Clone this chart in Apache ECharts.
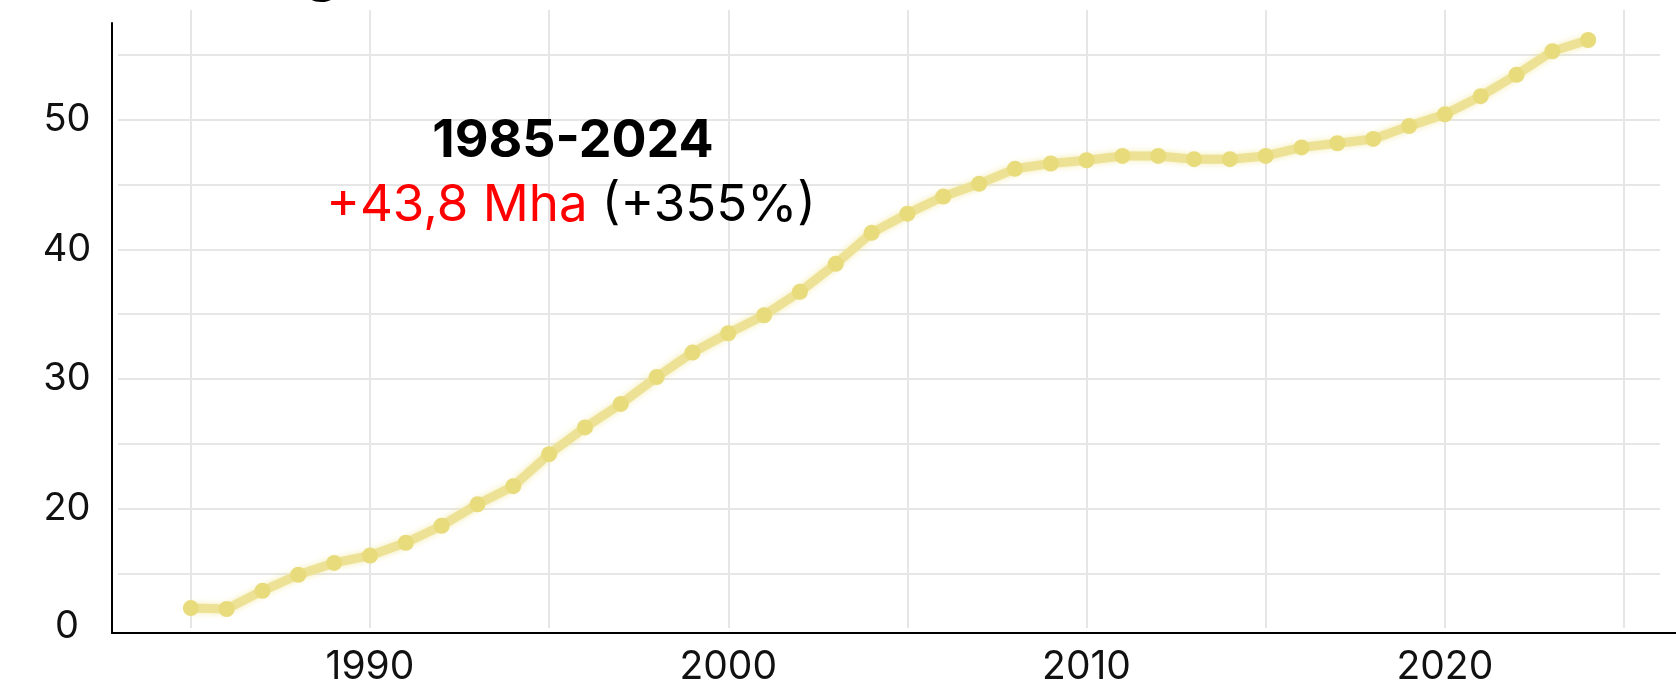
<!DOCTYPE html>
<html>
<head>
<meta charset="utf-8">
<title>1985-2024</title>
<script src="https://cdn.jsdelivr.net/npm/echarts@6.0.0/dist/echarts.min.js"></script>
<style>
  html, body { margin: 0; padding: 0; background: #fff; }
  #chart { width: 1676px; height: 687px; }
</style>
</head>
<body>
<div id="chart"></div>
<script>
// years on the x axis
const years = [1985, 1986, 1987, 1988, 1989, 1990, 1991, 1992, 1993, 1994,
               1995, 1996, 1997, 1998, 1999, 2000, 2001, 2002, 2003, 2004,
               2005, 2006, 2007, 2008, 2009, 2010, 2011, 2012, 2013, 2014,
               2015, 2016, 2017, 2018, 2019, 2020, 2021, 2022, 2023, 2024];
// area, Mha
const area = [12.34, 12.27, 13.67, 14.91, 15.82, 16.39, 17.38, 18.69, 20.34, 21.74,
              24.21, 26.27, 28.08, 30.15, 32.04, 33.53, 34.92, 36.73, 38.88, 41.27,
              42.75, 44.07, 45.05, 46.21, 46.62, 46.87, 47.20, 47.20, 46.95, 46.95,
              47.20, 47.86, 48.18, 48.51, 49.50, 50.41, 51.81, 53.46, 55.27, 56.14];
const yLabels = [20, 30, 40, 50];
const xLabels = [1990, 2000, 2010, 2020];
const periodText = "1985-2024";
const changeText = "+43,8 Mha";
const pctText = "(+355%)";

const FONT = "Inter, 'Noto Sans', sans-serif";
const GRID_COLOR = '#e6e6e6';

const chart = echarts.init(document.getElementById('chart'));

chart.setOption({
    backgroundColor: '#fff',
    animation: false,
    title: [
        { text: periodText, left: 568, top: 106, textAlign: 'center',
          textStyle: { fontFamily: FONT, fontSize: 52, fontWeight: 'bold', color: '#000', lineHeight: 60 } },
        { text: '{r|' + changeText + '} ' + pctText, left: 566, top: 171, textAlign: 'center',
          textStyle: { fontFamily: FONT, fontSize: 51, fontWeight: 'normal', color: '#000', lineHeight: 60,
                       rich: { r: { fontFamily: FONT, fontSize: 51, color: '#ff0000', lineHeight: 60 } } } }
    ],
    graphic: [
        // descender of the cropped heading at the top edge
        { type: 'text', x: 322, y: -29,
          style: { text: 'g', font: "bold 60px " + FONT, fill: '#000', align: 'center', verticalAlign: 'middle' } }
    ],
    grid: [
        { left: 190.8, right: 52, top: 10, bottom: 54 },       // vertical grid lines + year labels
        { left: 118, right: 16, top: 54.8, bottom: 113.4 },    // horizontal grid lines + value labels
        { left: 112, right: 0, top: 23, bottom: 54 }           // axes + data
    ],
    xAxis: [
        { gridIndex: 0, type: 'value', min: 1985, max: 2025, interval: 5,
          axisLine: { show: false }, axisTick: { show: false },
          splitLine: { show: true, lineStyle: { color: GRID_COLOR, width: 2 } },
          axisLabel: { margin: 20, fontFamily: FONT, fontSize: 39, color: '#111',
                       formatter: v => xLabels.includes(v) ? String(v) : '' } },
        { gridIndex: 1, type: 'value', min: 0, max: 1, show: false },
        { gridIndex: 2, type: 'value', min: 1982.8, max: 2026.45,
          axisLine: { show: true, lineStyle: { color: '#000', width: 2 } },
          axisTick: { show: false }, axisLabel: { show: false }, splitLine: { show: false } }
    ],
    yAxis: [
        { gridIndex: 0, type: 'value', min: 0, max: 1, show: false },
        { gridIndex: 1, type: 'value', min: 15, max: 55, interval: 5,
          axisLine: { show: false }, axisTick: { show: false },
          splitLine: { show: true, lineStyle: { color: GRID_COLOR, width: 2 } },
          axisLabel: { margin: 51, align: 'center', fontFamily: FONT, fontSize: 38, color: '#111',
                       formatter: v => yLabels.includes(v) ? String(v) : '' } },
        { gridIndex: 2, type: 'value', min: 10.42, max: 57.45,
          axisLine: { show: true, lineStyle: { color: '#000', width: 2 } },
          axisTick: { show: false }, splitLine: { show: false },
          axisLabel: { margin: 45, align: 'center', showMinLabel: true, showMaxLabel: false,
                       formatter: (v, i) => i === 0 ? '{z|0}' : '',
                       rich: { z: { fontFamily: FONT, fontSize: 38, color: '#111', padding: [0, 0, 12, 0] } } } }
    ],
    series: [{
        type: 'line',
        xAxisIndex: 2, yAxisIndex: 2,
        data: years.map((y, i) => [y, area[i]]),
        symbol: 'circle', symbolSize: 16,
        itemStyle: { color: '#e8db7c' },
        lineStyle: { color: '#ece194', width: 9, shadowBlur: 6, shadowColor: 'rgba(240,230,150,0.8)' },
        z: 5
    }]
});
</script>
</body>
</html>
